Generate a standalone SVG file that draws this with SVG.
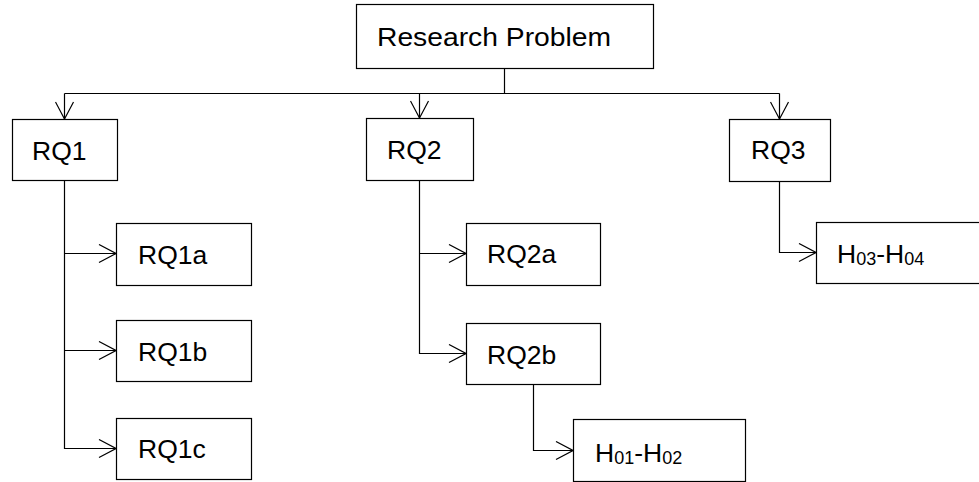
<svg xmlns="http://www.w3.org/2000/svg" width="979" height="482" viewBox="0 0 979 482">
<style>
.box{fill:#fff;stroke:#000;stroke-width:1.2}
.lbl{font-family:"Liberation Sans",Arial,sans-serif;font-size:26.5px;fill:#000}
.sub{font-size:18px}
.conn{fill:none;stroke:#000;stroke-width:1.2}
</style>
<defs>
<marker id="arr" markerUnits="userSpaceOnUse" viewBox="-1 -1 19 20" markerWidth="19" markerHeight="20" refX="17" refY="9" orient="auto">
<path d="M0,0 L17,9 L0,18" fill="none" stroke="#000" stroke-width="1.2"/>
</marker>
</defs>
<rect width="979" height="482" fill="#fff"/>
<g id="connectors">
<path class="conn" d="M504.5 68 V93.5"/>
<path class="conn" d="M64.5 93.5 H779.5"/>
<path class="conn" d="M64.5 93.5 V119" marker-end="url(#arr)"/>
<path class="conn" d="M419.5 93.5 V118" marker-end="url(#arr)"/>
<path class="conn" d="M779.5 93.5 V119" marker-end="url(#arr)"/>
<path class="conn" d="M64.5 180 V448.5 H116" marker-end="url(#arr)"/>
<path class="conn" d="M64.5 253.5 H116" marker-end="url(#arr)"/>
<path class="conn" d="M64.5 350.5 H116" marker-end="url(#arr)"/>
<path class="conn" d="M419.5 180 V353.5 H466" marker-end="url(#arr)"/>
<path class="conn" d="M419.5 253.5 H466" marker-end="url(#arr)"/>
<path class="conn" d="M533.5 384 V450.5 H573" marker-end="url(#arr)"/>
<path class="conn" d="M779.5 181 V252.5 H816" marker-end="url(#arr)"/>
</g>
<g id="research-problem">
<rect class="box" x="356.5" y="4.5" width="297" height="64"/>
<text class="lbl" x="377" y="46" textLength="234" lengthAdjust="spacingAndGlyphs">Research Problem</text>
</g>
<g id="rq1">
<rect class="box" x="12.5" y="119.5" width="105" height="61"/>
<text class="lbl" x="32" y="160">RQ1</text>
</g>
<g id="rq2">
<rect class="box" x="366.5" y="118.5" width="107" height="62"/>
<text class="lbl" x="387" y="159">RQ2</text>
</g>
<g id="rq3">
<rect class="box" x="729.5" y="119.5" width="101" height="62"/>
<text class="lbl" x="751" y="159">RQ3</text>
</g>
<g id="rq1a">
<rect class="box" x="116.5" y="223.5" width="135" height="62"/>
<text class="lbl" x="138" y="264">RQ1a</text>
</g>
<g id="rq1b">
<rect class="box" x="116.5" y="320.5" width="135" height="61"/>
<text class="lbl" x="138" y="361">RQ1b</text>
</g>
<g id="rq1c">
<rect class="box" x="116.5" y="418.5" width="135" height="61"/>
<text class="lbl" x="138" y="458">RQ1c</text>
</g>
<g id="rq2a">
<rect class="box" x="466.5" y="223.5" width="134" height="62"/>
<text class="lbl" x="487" y="263">RQ2a</text>
</g>
<g id="rq2b">
<rect class="box" x="466.5" y="323.5" width="134" height="61"/>
<text class="lbl" x="487" y="364">RQ2b</text>
</g>
<g id="h01-h02">
<rect class="box" x="573.5" y="419.5" width="172" height="62"/>
<text class="lbl" x="595" y="462">H<tspan class="sub" dy="2">01</tspan><tspan dy="-2">-H</tspan><tspan class="sub" dy="2">02</tspan></text>
</g>
<g id="h03-h04">
<rect class="box" x="816.5" y="222.5" width="170" height="61"/>
<text class="lbl" x="837" y="263">H<tspan class="sub" dy="2">03</tspan><tspan dy="-2">-H</tspan><tspan class="sub" dy="2">04</tspan></text>
</g>
</svg>
